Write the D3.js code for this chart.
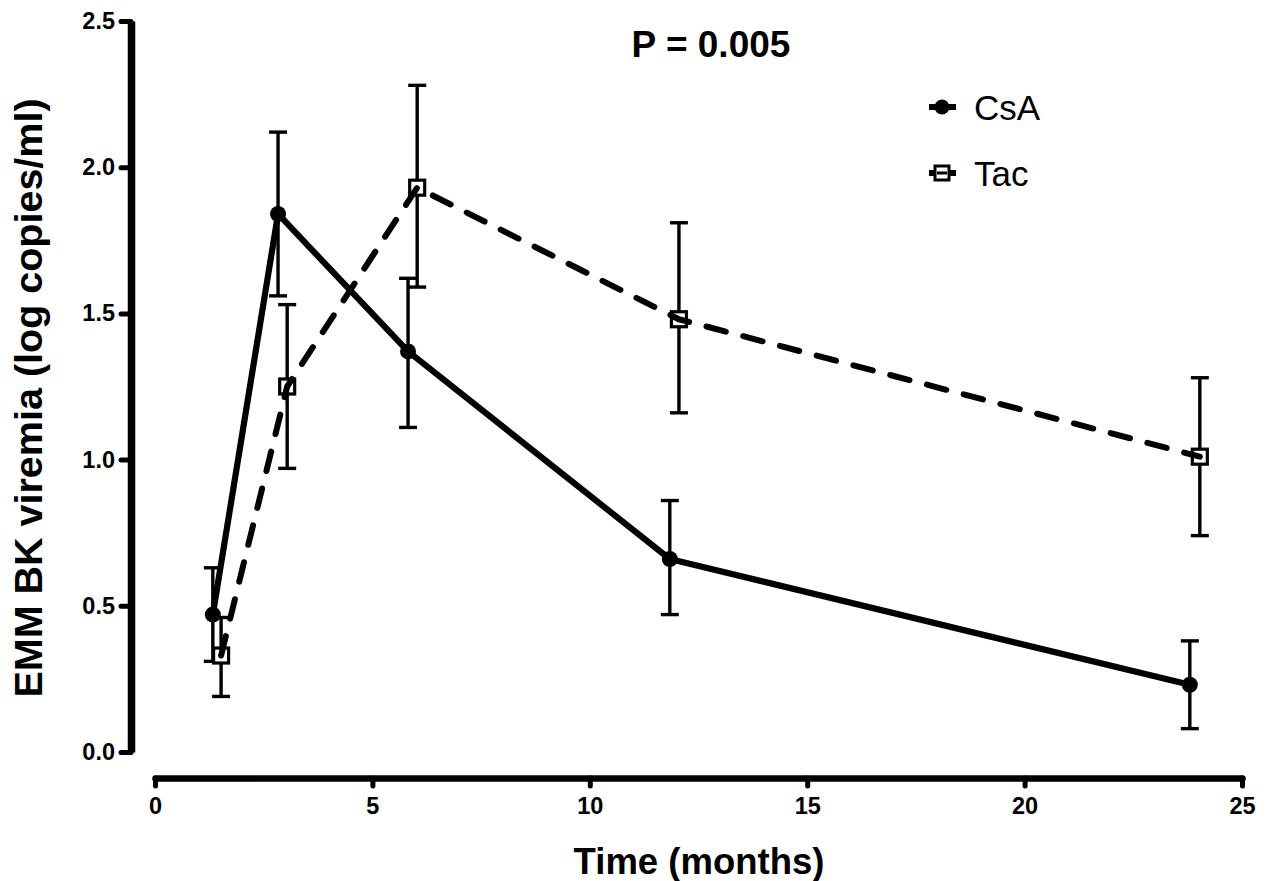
<!DOCTYPE html>
<html>
<head>
<meta charset="utf-8">
<script src="https://cdn.jsdelivr.net/npm/d3@7"></script>
<style>
  html, body { margin: 0; padding: 0; background: #fff; }
  svg { display: block; font-family: Arial, "Liberation Sans", sans-serif; }
</style>
</head>
<body>
<svg id="chart" width="1272" height="881"></svg>
<script>
// ---- data ----
const seriesNames = ["CsA", "Tac"];
const csaX  = [1.33, 2.83, 5.82, 11.84, 23.8];
const csaY  = [0.47, 1.84, 1.37, 0.66, 0.23];
const csaLo = [0.31, 1.56, 1.11, 0.47, 0.08];
const csaHi = [0.63, 2.12, 1.62, 0.86, 0.38];
const tacX  = [1.52, 3.04, 6.03, 12.05, 24.03];
const tacY  = [0.33, 1.25, 1.93, 1.48, 1.01];
const tacLo = [0.19, 0.97, 1.59, 1.16, 0.74];
const tacHi = [0.46, 1.53, 2.28, 1.81, 1.28];
const xTicks = [0, 5, 10, 15, 20, 25];
const yTicks = [0.0, 0.5, 1.0, 1.5, 2.0, 2.5];
const titleText = "P = 0.005";
const xLabel = "Time (months)";
const yLabel = "EMM BK viremia (log copies/ml)";

const svg = d3.select("#chart");
const x = d3.scaleLinear().domain([0, 25]).range([155, 1242]);
const y = d3.scaleLinear().domain([0, 2.5]).range([752, 21]);

// ---- axes ----
const yAxisX = 131, xAxisY = 778;
const gy = svg.append("g").attr("transform", `translate(${yAxisX},0)`)
  .call(d3.axisLeft(y).tickValues(yTicks).tickFormat(d3.format(".1f"))
        .tickSize(10).tickSizeOuter(0).tickPadding(6));
gy.select(".domain").attr("stroke", "#000").attr("stroke-width", 7.5);
gy.selectAll(".tick line").attr("stroke", "#000").attr("stroke-width", 5).attr("stroke-linecap", "round");
gy.selectAll(".tick text").attr("font-size", 23.5).attr("font-weight", "bold")
  .attr("font-family", "Arial, 'Liberation Sans', sans-serif").attr("fill", "#000");

const gx = svg.append("g").attr("transform", `translate(0,${xAxisY})`)
  .call(d3.axisBottom(x).tickValues(xTicks).tickFormat(d3.format("d"))
        .tickSize(8).tickSizeOuter(0).tickPadding(11));
gx.select(".domain").attr("stroke", "#000").attr("stroke-width", 6.5).attr("stroke-linecap", "round");
gx.selectAll(".tick line").attr("stroke", "#000").attr("stroke-width", 5).attr("stroke-linecap", "round");
gx.selectAll(".tick text").attr("font-size", 23.5).attr("font-weight", "bold")
  .attr("font-family", "Arial, 'Liberation Sans', sans-serif").attr("fill", "#000");

// ---- labels ----
svg.append("text").attr("x", 711).attr("y", 57).attr("text-anchor", "middle")
  .attr("font-size", 37).attr("font-weight", "bold").text(titleText);
svg.append("text").attr("x", 699).attr("y", 874).attr("text-anchor", "middle")
  .attr("font-size", 36.5).attr("font-weight", "bold").text(xLabel);
svg.append("text").attr("transform", "translate(42,398) rotate(-90)").attr("text-anchor", "middle")
  .attr("font-size", 39.5).attr("font-weight", "bold").text(yLabel);

// ---- series ----
const csa = csaX.map((d, i) => ({x: d, y: csaY[i], lo: csaLo[i], hi: csaHi[i]}));
const tac = tacX.map((d, i) => ({x: d, y: tacY[i], lo: tacLo[i], hi: tacHi[i]}));
const cap = 9;

function errorBars(data) {
  const g = svg.append("g").attr("stroke", "#000").attr("stroke-width", 3.4);
  data.forEach(d => {
    g.append("line").attr("x1", x(d.x)).attr("x2", x(d.x)).attr("y1", y(d.lo)).attr("y2", y(d.hi));
    g.append("line").attr("x1", x(d.x) - cap).attr("x2", x(d.x) + cap).attr("y1", y(d.lo)).attr("y2", y(d.lo));
    g.append("line").attr("x1", x(d.x) - cap).attr("x2", x(d.x) + cap).attr("y1", y(d.hi)).attr("y2", y(d.hi));
  });
}
errorBars(tac);
errorBars(csa);

const line = d3.line().x(d => x(d.x)).y(d => y(d.y));

// Tac squares then dashed line
svg.append("g").selectAll("rect").data(tac).join("rect")
  .attr("x", d => x(d.x) - 7.5).attr("y", d => y(d.y) - 7.5)
  .attr("width", 15).attr("height", 15)
  .attr("fill", "#fff").attr("stroke", "#000").attr("stroke-width", 3.2);
svg.append("path").datum(tac).attr("d", line)
  .attr("fill", "none").attr("stroke", "#000").attr("stroke-width", 6)
  .attr("stroke-dasharray", "20 18").attr("stroke-linecap", "round").attr("stroke-linejoin", "round");

// CsA solid line and circles
svg.append("path").datum(csa).attr("d", line)
  .attr("fill", "none").attr("stroke", "#000").attr("stroke-width", 6.2).attr("stroke-linejoin", "round");
svg.append("g").selectAll("circle").data(csa).join("circle")
  .attr("cx", d => x(d.x)).attr("cy", d => y(d.y)).attr("r", 8).attr("fill", "#000");

// ---- legend ----
const legend = svg.append("g");
const legItems = [{name: seriesNames[0], cy: 107, type: "circle"}, {name: seriesNames[1], cy: 173, type: "square"}];
legItems.forEach(it => {
  legend.append("line").attr("x1", 929).attr("x2", 956).attr("y1", it.cy).attr("y2", it.cy)
    .attr("stroke", "#000").attr("stroke-width", 6);
  if (it.type === "circle") {
    legend.append("circle").attr("cx", 942).attr("cy", it.cy).attr("r", 7.5).attr("fill", "#000");
  } else {
    legend.append("rect").attr("x", 942 - 7).attr("y", it.cy - 7).attr("width", 14).attr("height", 14)
      .attr("fill", "#fff").attr("stroke", "#000").attr("stroke-width", 3);
    legend.append("line").attr("x1", 937).attr("x2", 947).attr("y1", it.cy).attr("y2", it.cy)
      .attr("stroke", "#000").attr("stroke-width", 3);
  }
  legend.append("text").attr("x", 974).attr("y", it.cy + 12.5)
    .attr("font-size", 35).attr("fill", "#000").text(it.name);
});
</script>
</body>
</html>
